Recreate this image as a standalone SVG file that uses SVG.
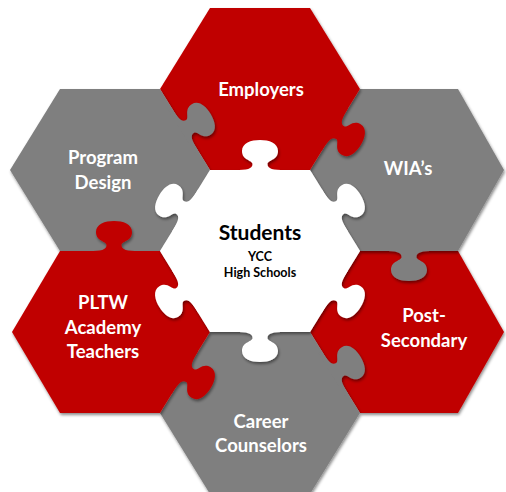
<svg xmlns="http://www.w3.org/2000/svg" xmlns:xlink="http://www.w3.org/1999/xlink" width="506" height="492" viewBox="0 0 506 492">
<style>
.red{fill:#C00000}
.gray{fill:#7F7F7F}
.white{fill:#FFFFFF}
.lbl{font-family:Lato,"Liberation Sans",sans-serif;font-weight:bold;font-size:18.5px;fill:#FFFFFF;text-anchor:middle}
.ctr{font-family:Lato,"Liberation Sans",sans-serif;font-weight:bold;fill:#000000;text-anchor:middle}
</style>
<defs>
<filter id="sh" x="-20%" y="-20%" width="140%" height="140%">
<feDropShadow dx="1" dy="2" stdDeviation="1.6" flood-color="#000" flood-opacity="0.45"/>
</filter>
<path id="knob" d="M -25 4 L -25 0 C -13 0 -7.5 -1 -7.5 -6 C -7.5 -10 -18 -9.5 -18 -19 C -18 -27 -9 -30 0 -30 C 9 -30 18 -27 18 -19 C 18 -9.5 7.5 -10 7.5 -6 C 7.5 -1 13 0 25 0 L 25 4 Z"/>
</defs>
<rect width="506" height="492" fill="#FFFFFF"/>

<g id="post-secondary">
<g class="red" filter="url(#sh)">
<polygon points="360,251 458,251 504,332 458,413 360,413 310,332"/>
</g>
<text class="lbl" x="424" y="322">Post-</text>
<text class="lbl" x="424" y="347">Secondary</text>
</g>

<g id="wias">
<g class="gray" filter="url(#sh)">
<polygon points="360,89 458,89 504,170 458,251 360,251 310,170"/>
<use xlink:href="#knob" transform="translate(409,251) rotate(180)"/>
</g>
<text class="lbl" x="408" y="175">WIA’s</text>
</g>

<g id="employers">
<g class="red" filter="url(#sh)">
<polygon points="210,8 310,8 360,89 310,170 210,170 160,89"/>
<use xlink:href="#knob" transform="translate(335,129.5) rotate(121.7)"/>
</g>
<text class="lbl" x="261" y="96">Employers</text>
</g>

<g id="program-design">
<g class="gray" filter="url(#sh)">
<polygon points="60,89 160,89 210,170 160,251 60,251 10,170"/>
<use xlink:href="#knob" transform="translate(185,129.5) rotate(58.3)"/>
</g>
<text class="lbl" x="103" y="164">Program</text>
<text class="lbl" x="103" y="189">Design</text>
</g>

<g id="career-counselors">
<g class="gray" filter="url(#sh)">
<polygon points="210,332 310,332 360,413 310,494 210,494 160,413"/>
<use xlink:href="#knob" transform="translate(335,372.5) rotate(58.3)"/>
</g>
<text class="lbl" x="261" y="428">Career</text>
<text class="lbl" x="261" y="452">Counselors</text>
</g>

<g id="pltw-teachers">
<g class="red" filter="url(#sh)">
<polygon points="60,251 160,251 210,332 160,413 60,413 12,332"/>
<use xlink:href="#knob" transform="translate(185,372.5) rotate(121.7)"/>
<use xlink:href="#knob" transform="translate(114,251) rotate(0)"/>
</g>
<text class="lbl" x="103" y="309">PLTW</text>
<text class="lbl" x="103" y="334">Academy</text>
<text class="lbl" x="103" y="358">Teachers</text>
</g>

<g id="students">
<g class="white" filter="url(#sh)">
<polygon points="160,251 210,170 310,170 360,251 310,332 210,332"/>
<use xlink:href="#knob" transform="translate(260,170) rotate(0)"/>
<use xlink:href="#knob" transform="translate(335,210.5) rotate(58.3)"/>
<use xlink:href="#knob" transform="translate(335,291.5) rotate(121.7)"/>
<use xlink:href="#knob" transform="translate(260,332) rotate(180)"/>
<use xlink:href="#knob" transform="translate(185,291.5) rotate(-121.7)"/>
<use xlink:href="#knob" transform="translate(185,210.5) rotate(-58.3)"/>
</g>
<text class="ctr" x="260" y="240" font-size="21">Students</text>
<text class="ctr" x="260" y="261" font-size="12.5">YCC</text>
<text class="ctr" x="260" y="277" font-size="12.5">High Schools</text>
</g>

<g id="connectors"></g>
</svg>
